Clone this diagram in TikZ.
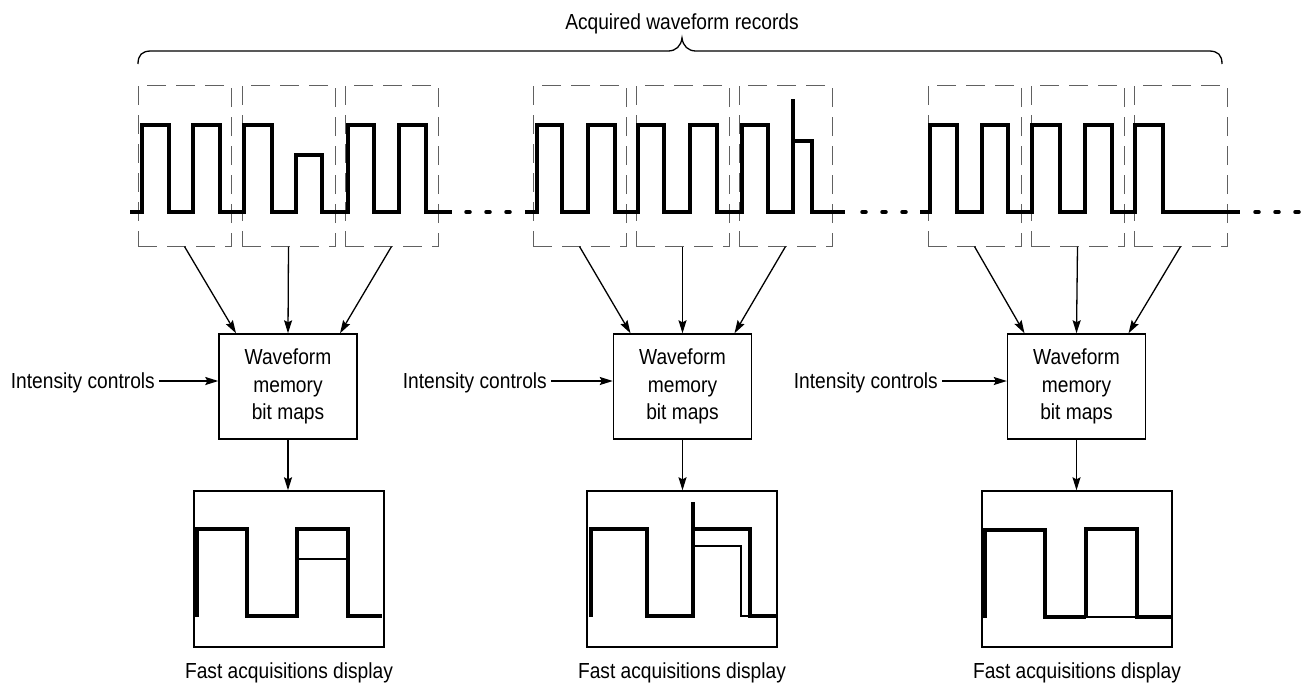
\documentclass[tikz,border=0pt]{standalone}
\usepackage{fontspec}
\setmainfont{Liberation Sans}[FakeStretch=0.88]
\usetikzlibrary{arrows.meta,calc}
\begin{document}
\begin{tikzpicture}[x=1pt,y=-1pt,
  every node/.style={font=\fontsize{21.8}{27.5}\selectfont},
  recbox/.style={draw=black!62, line width=1pt, dash pattern=on 19pt off 10pt, minimum width=93pt, minimum height=161pt, inner sep=0pt},
  membox/.style={draw, line width=1.4pt, minimum width=138pt, minimum height=105pt, align=center, inner sep=0pt},
  dispbox/.style={draw, line width=1.4pt, minimum width=190pt, minimum height=156pt, inner sep=0pt},
  arr/.style={line width=1.3pt, -{Stealth[length=13pt,width=8pt,inset=2pt]}},
  wave/.style={line width=3.5pt, line join=miter},
  thinwave/.style={line width=1.2pt},
  dotseg/.style={line width=3.5pt, line cap=round},
  bracepath/.style={line width=1.3pt}]
\useasboundingbox (0,0) rectangle (1309,686);

% title and brace
\node[anchor=base] (title) at (682,29) {Acquired waveform records};
\draw[bracepath] (138,64) .. controls (138,55) and (142,51) .. (151,51) -- (668,51)
  .. controls (676,51) and (681,46) .. (682,38)
  .. controls (683,46) and (688,51) .. (696,51) -- (1209,51)
  .. controls (1218,51) and (1222,55) .. (1222,64);

% dashed record boxes
\foreach \n/\cx in {11/184.5,12/288.5,13/391.5,21/579.5,22/682.5,23/785.5,31/974.5,32/1077.5,33/1180.5}
  \node[recbox] (r\n) at (\cx,165.5) {};

% waveform
\draw[wave] (130,212) -- (142,212) -- (142,125) -- (169,125) -- (169,212) -- (193,212) -- (193,125) -- (220,125) -- (220,212)
  -- (244,212) -- (244,125) -- (272,125) -- (272,212) -- (296,212) -- (296,155) -- (322,155) -- (322,212)
  -- (348,212) -- (348,125) -- (374,125) -- (374,212) -- (399,212) -- (399,125) -- (426,125) -- (426,212) -- (452,212);
\foreach \x in {466,486,506}
  \draw[dotseg] (\x,212) -- (\x+4,212);
\draw[wave] (525,212) -- (537,212) -- (537,125) -- (562,125) -- (562,212) -- (588,212) -- (588,125) -- (615,125) -- (615,212)
  -- (638,212) -- (638,125) -- (664,125) -- (664,212) -- (690,212) -- (690,125) -- (717,125) -- (717,212)
  -- (742,212) -- (742,125) -- (768,125) -- (768,212) -- (793,212) -- (793,99);
\draw[wave] (793,141) -- (812,141) -- (812,212) -- (845,212);
\foreach \x in {862,882,902}
  \draw[dotseg] (\x,212) -- (\x+4,212);
\draw[wave] (920,212) -- (930,212) -- (930,125) -- (957,125) -- (957,212) -- (982,212) -- (982,125) -- (1008,125) -- (1008,212)
  -- (1032,212) -- (1032,125) -- (1060,125) -- (1060,212) -- (1085,212) -- (1085,125) -- (1112,125) -- (1112,212)
  -- (1135,212) -- (1135,125) -- (1163,125) -- (1163,212) -- (1240,212);
\foreach \x in {1255,1275,1295}
  \draw[dotseg] (\x,212) -- (\x+4,212);

% memory boxes
\node[membox] (m1) at (288,386.5) {Waveform\\memory\\bit maps};
\node[membox] (m2) at (682.5,386.5) {Waveform\\memory\\bit maps};
\node[membox] (m3) at (1076.5,386.5) {Waveform\\memory\\bit maps};

% arrows from records to memory
\foreach \g in {1,2,3}{
  \draw[arr] (r\g1.south) -- ($(m\g.north)+(-52,0)$);
  \draw[arr] (r\g2.south) -- (m\g.north);
  \draw[arr] (r\g3.south) -- ($(m\g.north)+(52,0)$);
}

% intensity controls
\node[anchor=base east, inner xsep=4pt] (i1) at (159,388) {Intensity controls};
\node[anchor=base east, inner xsep=4pt] (i2) at (551,388) {Intensity controls};
\node[anchor=base east, inner xsep=4pt] (i3) at (942,388) {Intensity controls};
\foreach \g in {1,2,3}{
  \coordinate (ia\g) at ($(i\g.base east)+(0,-7)$);
  \draw[arr] (ia\g) -- (ia\g -| m\g.west);
}

% display boxes
\node[dispbox] (d1) at (289,569) {};
\node[dispbox] (d2) at (682,569) {};
\node[dispbox] (d3) at (1077,569) {};
\foreach \g in {1,2,3}
  \draw[arr] (m\g.south) -- (m\g.south |- d\g.north);

% captions
\node[anchor=base] (c1) at (289,678) {Fast acquisitions display};
\node[anchor=base] (c2) at (682,678) {Fast acquisitions display};
\node[anchor=base] (c3) at (1077,678) {Fast acquisitions display};

% display traces
\draw[wave] (197,617) -- (197,529) -- (247,529) -- (247,616) -- (297,616) -- (297,529) -- (348,529) -- (348,616) -- (382,616);
\draw[thinwave] (297,559) -- (348,559);

\draw[thinwave] (695,546) -- (741,546) -- (741,616) -- (750,616);
\draw[wave] (591,617) -- (591,529) -- (647,529) -- (647,616) -- (693,616) -- (693,502);
\draw[wave] (693,529) -- (750,529) -- (750,616) -- (776,616);

\draw[thinwave] (1086,617) -- (1137,617);
\draw[wave] (985,618) -- (985,530) -- (1045,530) -- (1045,617) -- (1086,617);
\draw[wave] (1086,617) -- (1086,529) -- (1137,529) -- (1137,617) -- (1171,617);
\end{tikzpicture}
\end{document}
